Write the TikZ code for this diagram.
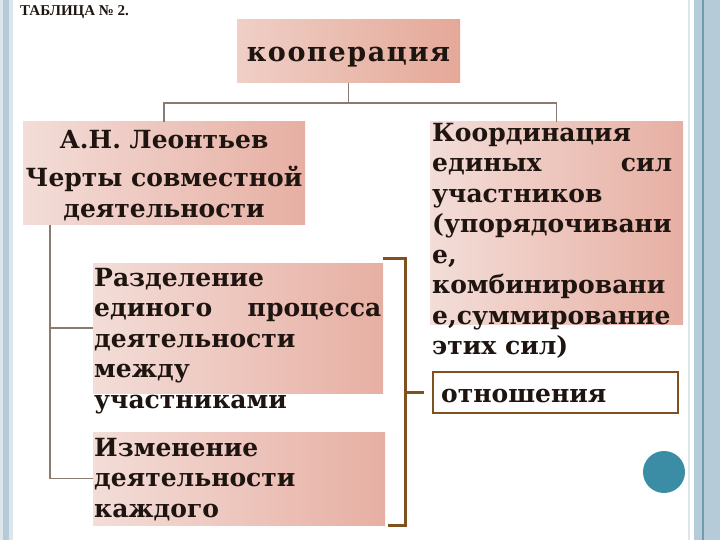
\documentclass[tikz,border=0pt]{standalone}
\usepackage{fontspec}
\setmainfont{DejaVu Serif}
\newfontfamily\titlefont{Liberation Serif}
\newfontfamily\coopfont[LetterSpace=6]{DejaVu Serif}
\definecolor{pinkL}{HTML}{F3DDD8}
\definecolor{pinkR}{HTML}{E7AFA3}
\definecolor{coopL}{HTML}{EFCFC6}
\definecolor{coopR}{HTML}{E5A898}
\definecolor{connC}{HTML}{8A7A70}
\definecolor{brackC}{HTML}{80501F}
\definecolor{txtC}{HTML}{1E1410}
\definecolor{bandC}{HTML}{B5CCD8}
\definecolor{bandD}{HTML}{6F9AB0}
\definecolor{paleC}{HTML}{DCE6EB}
\definecolor{dotC}{HTML}{3A8DA5}
\tikzset{
  pinkbox/.style={draw=none, rectangle, inner sep=0pt, left color=pinkL, right color=pinkR},
  coopbox/.style={draw=none, rectangle, inner sep=0pt, left color=coopL, right color=coopR},
  bodytext/.style={inner sep=0pt, text=txtC, font=\bfseries\fontsize{25}{30.5}\selectfont},
  conn/.style={draw=connC, line width=1.5pt},
  brack/.style={draw=brackC, line width=3pt},
}
\begin{document}
\begin{tikzpicture}[x=1pt,y=-1pt]
\useasboundingbox (0,0) rectangle (720,540);
% side bands
\fill[paleC] (0,0) rectangle (13,540);
\fill[bandC] (3,0) rectangle (9,540);
\fill[paleC] (688,0) rectangle (690,540);
\fill[bandC] (694,0) rectangle (720,540);
\fill[bandD] (701.5,0) rectangle (703.5,540);
% title
\node[anchor=base west, inner sep=0pt, text=txtC, font=\titlefont\bfseries\fontsize{15}{17}\selectfont] (tab) at (20,16) {ТАБЛИЦА № 2.};
% boxes
\node[coopbox, minimum width=223pt, minimum height=63pt] (coop) at (348.5,51.5) {};
\node[anchor=base, inner sep=0pt, text=txtC, font=\coopfont\bfseries\fontsize{27}{30}\selectfont] (cooptext) at (348.5,62) {кооперация};
\node[pinkbox, minimum width=282pt, minimum height=103pt] (leo) at (164,173.5) {};
\node[pinkbox, minimum width=290pt, minimum height=130pt] (razd) at (238,328) {};
\node[pinkbox, minimum width=292pt, minimum height=93pt] (izm) at (239,478.5) {};
\node[pinkbox, minimum width=253pt, minimum height=202pt] (koord) at (556.5,223) {};
\node[draw=brackC, line width=2pt, fill=white, minimum width=245pt, minimum height=41pt, inner sep=0pt] (otn) at (555.5,392.5) {};
\fill[dotC] (664,472) circle (21);
% texts
\node[bodytext, anchor=north, align=center] (leotext) at (164,130) {А.Н. Леонтьев\\[8pt]Черты совместной\\деятельности};
\node[bodytext, anchor=north west, align=left] (razdtext) at (94,268) {Разделение\\\hbox to 287pt{единого\hfill процесса}\\деятельности\\между\\участниками};
\node[bodytext, anchor=north west, align=left] (izmtext) at (94,438) {Изменение\\деятельности\\каждого};
\node[bodytext, anchor=north west, align=left] (koordtext) at (432,123) {Координация\\\hbox to 240pt{единых\hfill сил}\\участников\\(упорядочивани\\е,\\комбинировани\\е,суммирование\\этих сил)};
\node[bodytext, anchor=base west] (otntext) at (441,402) {отношения};
% connectors
\coordinate (hub) at (348.5,103);
\draw[conn] (coop.south) -- (hub);
\draw[conn] (leo.north) |- (hub) -| (koord.north);
\coordinate (lx) at (50,225);
\draw[conn] (lx) |- (izm.west);
\draw[conn] (lx |- razd.west) -- (razd.west);
% bracket
\coordinate (bt) at (383,258);
\coordinate (bb) at (388,525);
\coordinate (bm) at (405,392.5);
\draw[brack] (bt) -- (405,258) -- (405,525) -- (bb);
\draw[brack] (bm) -- ([xshift=-8pt]otn.west);
\end{tikzpicture}
\end{document}
